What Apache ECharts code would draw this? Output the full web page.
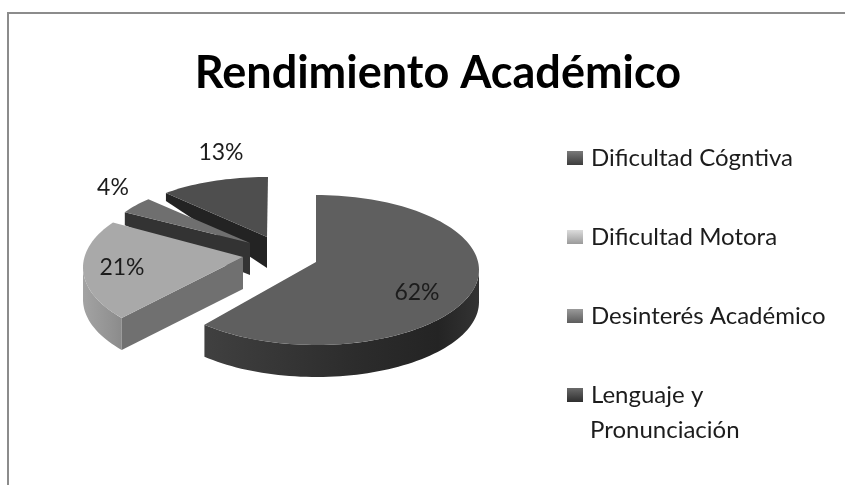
<!DOCTYPE html>
<html>
<head>
<meta charset="utf-8">
<style>
  html, body { margin: 0; padding: 0; background: #fff; overflow: hidden; }
  #chart { width: 845px; height: 485px; }
</style>
<script src="https://cdn.jsdelivr.net/npm/echarts@6/dist/echarts.min.js"></script>
</head>
<body>
<div id="chart"></div>
<script>
const TITLE = 'Rendimiento Académico'
const CATEGORIES = ['Dificultad Cógntiva', 'Dificultad Motora', 'Desinterés Académico', 'Lenguaje y']
const VALUES = [62, 21, 4, 13]
const LEGEND_EXTRA_LINE = 'Pronunciación'

const FONT = 'Lato, "Open Sans", sans-serif'

// where each exploded slice sits: ellipse, apex, extrusion (the source chart has perspective)
const SHAPES = [
  { cx: 316, cy: 270, rx: 163, ry: 75, rot: 0, ax: 316, ay: 262, depth: 31, rimDepth: 32, wall: [90, 223.2] },
  { cx: 246, cy: 267.5, rx: 163, ry: 78, rot: 6.5, ax: 243, ay: 257, depth: 32, rimDepth: 32, wall: [229.7, 270], cut: true },
  { cx: 265, cy: 243, rx: 160, ry: 64, rot: 0, ax: 250, ay: 243, depth: 32, rimDepth: 13, cut: true },
  { cx: 268, cy: 228, rx: 140, ry: 51, rot: 0, ax: 267, ay: 237, depth: 31, rimDepth: 8, cut: true }
]
const TOP_COLORS = ['#5f5f5f', '#a9a9a9', '#6f6f6f', '#4e4e4e']
const CUT_COLORS = [null, '#707070', '#333333', '#232323']
const LEGEND_COLORS = [['#7a7a7a', '#3c3c3c'], ['#dcdcdc', '#9a9a9a'], ['#9a9a9a', '#5c5c5c'], ['#6a6a6a', '#2e2e2e']]
const LABEL_POS = [[417, 293], [122, 268], [113, 188], [221, 153]]
const WALL_FILLS = [
  [[0, '#333333'], [0.15, '#242424'], [0.45, '#2c2c2c'], [1, '#404040']],
  [[0, '#8b8b8b'], [0.3, '#939393'], [1, '#a3a3a3']]
]
const DRAW_ORDER = [3, 2, 1, 0]

const total = VALUES.reduce((a, b) => a + b, 0)
const rad = (d) => (d * Math.PI) / 180

function rimPoint(s, deg) {
  return [s.cx + s.rx * Math.sin(rad(deg)), s.cy - s.ry * Math.cos(rad(deg))]
}

function arc(s, from, to) {
  const pts = []
  const n = Math.max(4, Math.ceil(Math.abs(to - from) / 2))
  for (let i = 0; i <= n; i++) pts.push(rimPoint(s, from + ((to - from) * i) / n))
  return pts
}

function renderSlice(idx) {
  return function (params, api) {
    const s = SHAPES[idx]
    const before = VALUES.slice(0, idx).reduce((a, b) => a + b, 0)
    const start = (before / total) * 360 + s.rot
    const end = start + (api.value(0) / total) * 360
    const children = []

    if (s.wall) {
      const top = arc(s, s.wall[0], s.wall[1])
      const bottom = top.map((p) => [p[0], p[1] + s.rimDepth]).reverse()
      children.push({
        type: 'polygon',
        shape: { points: top.concat(bottom) },
        style: {
          // gradient runs left to right on the picture
          fill: new echarts.graphic.LinearGradient(1, 0, 0, 0,
            WALL_FILLS[idx].map((c) => ({ offset: c[0], color: c[1] })))
        }
      })
    }
    if (s.cut) {
      const p = rimPoint(s, start)
      children.push({
        type: 'polygon',
        shape: { points: [[s.ax, s.ay], p, [p[0], p[1] + s.rimDepth], [s.ax, s.ay + s.depth]] },
        style: { fill: CUT_COLORS[idx] }
      })
    }
    children.push({
      type: 'polygon',
      shape: { points: [[s.ax, s.ay]].concat(arc(s, start, end)) },
      style: { fill: TOP_COLORS[idx] }
    })
    children.push({
      type: 'text',
      z2: 10,
      style: {
        text: api.value(0) + '%',
        x: LABEL_POS[idx][0],
        y: LABEL_POS[idx][1],
        align: 'center',
        verticalAlign: 'middle',
        fill: '#1c1c1c',
        font: '23px ' + FONT
      }
    })
    return { type: 'group', children }
  }
}

const chart = echarts.init(document.getElementById('chart'))
chart.setOption({
  backgroundColor: '#fff',
  animation: false,
  title: {
    text: TITLE,
    left: 433,
    textAlign: 'center',
    top: 46,
    textStyle: { fontFamily: FONT, fontSize: 45, fontWeight: 'bold', color: '#000' }
  },
  legend: {
    orient: 'vertical',
    left: 562,
    top: 141,
    itemGap: 55,
    itemWidth: 16,
    itemHeight: 14,
    icon: 'rect',
    selectedMode: false,
    data: CATEGORIES.map((name, i) => ({
      name,
      itemStyle: {
        color: new echarts.graphic.LinearGradient(0, 0, 0, 1, [
          { offset: 0, color: LEGEND_COLORS[i][0] },
          { offset: 1, color: LEGEND_COLORS[i][1] }
        ])
      }
    })),
    textStyle: { fontFamily: FONT, fontSize: 24, color: '#1c1c1c', padding: [0, 0, 0, 3] }
  },
  graphic: [
    { type: 'rect', silent: true, shape: { x: 8, y: 13, width: 900, height: 540 }, style: { fill: 'none', stroke: '#8c8c8c', lineWidth: 2 } },
    { type: 'text', left: 590, top: 418, style: { text: LEGEND_EXTRA_LINE, fill: '#1c1c1c', font: '24px ' + FONT } }
  ],
  series: DRAW_ORDER.map((idx, order) => ({
    type: 'custom',
    name: CATEGORIES[idx],
    coordinateSystem: 'none',
    z: order + 2,
    clip: false,
    renderItem: renderSlice(idx),
    data: [[VALUES[idx]]]
  }))
})
</script>
</body>
</html>
